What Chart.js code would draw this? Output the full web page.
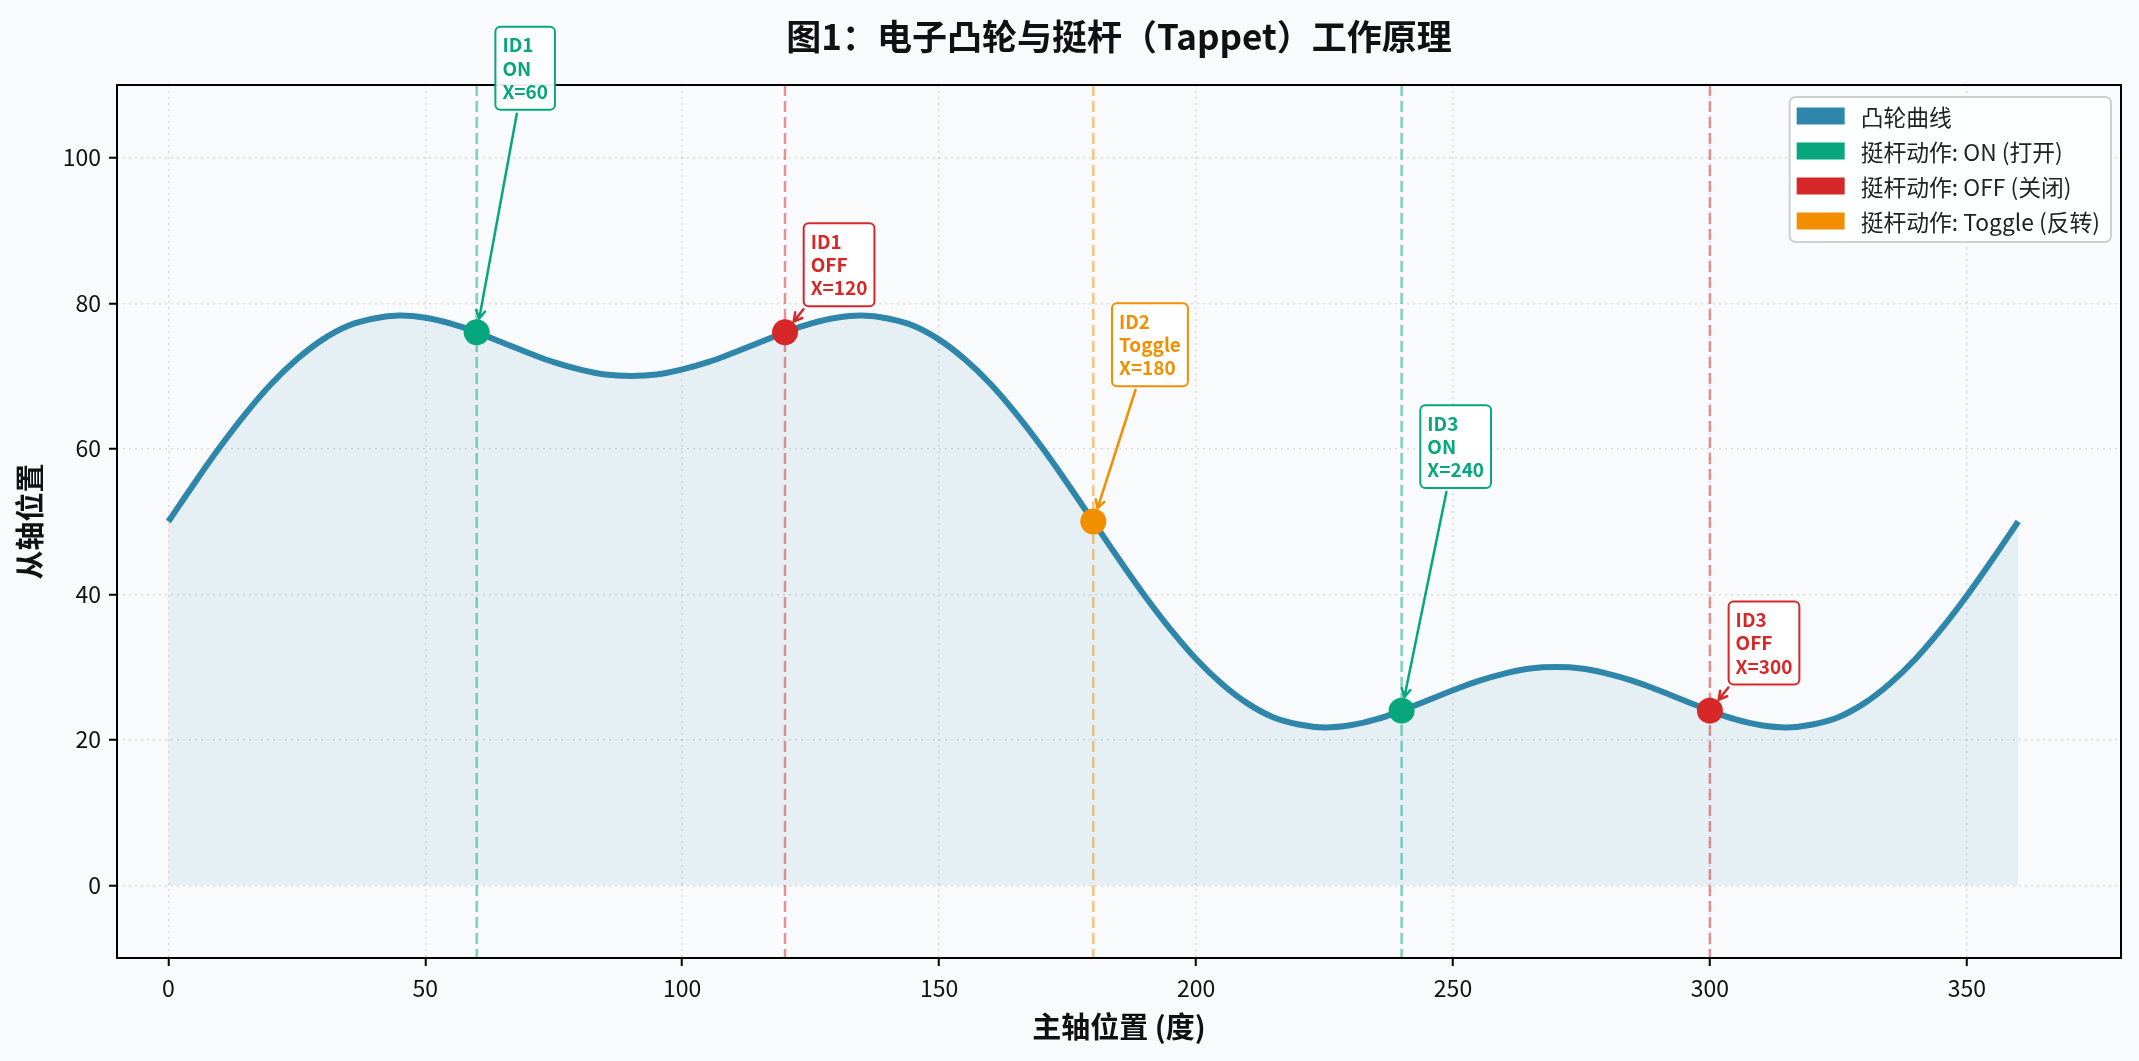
<!DOCTYPE html>
<html>
<head>
<meta charset="utf-8">
<script src="https://cdn.jsdelivr.net/npm/chart.js@4.4.1/dist/chart.umd.min.js"></script>
<style>
  html, body { margin: 0; padding: 0; background: #f9fafc; }
  #wrap { width: 2139px; height: 1061px; position: relative; }
</style>
</head>
<body>
<div id="wrap"><canvas id="camChart"></canvas></div>
<script>
// master axis angle (deg) and follower position
var angles = [0, 5, 10, 15, 20, 25, 30, 35, 40, 45, 50, 55, 60, 65, 70, 75, 80, 85, 90,
  95, 100, 105, 110, 115, 120, 125, 130, 135, 140, 145, 150, 155, 160, 165, 170, 175, 180,
  185, 190, 195, 200, 205, 210, 215, 220, 225, 230, 235, 240, 245, 250, 255, 260, 265, 270,
  275, 280, 285, 290, 295, 300, 305, 310, 315, 320, 325, 330, 335, 340, 345, 350, 355, 360];
var camValues = [50.0, 55.2, 60.2, 64.8, 68.9, 72.3, 75.0, 76.9, 77.9, 78.3, 78.0, 77.2, 76.0, 74.6, 73.2, 71.9, 70.9, 70.2, 70.0,
  70.2, 70.9, 71.9, 73.2, 74.6, 76.0, 77.2, 78.0, 78.3, 77.9, 76.9, 75.0, 72.3, 68.9, 64.8, 60.2, 55.2, 50.0,
  44.8, 39.8, 35.2, 31.1, 27.7, 25.0, 23.1, 22.1, 21.7, 22.0, 22.8, 24.0, 25.4, 26.8, 28.1, 29.1, 29.8, 30.0,
  29.8, 29.1, 28.1, 26.8, 25.4, 24.0, 22.8, 22.0, 21.7, 22.1, 23.1, 25.0, 27.7, 31.1, 35.2, 39.8, 44.8, 50.0];

// tappet switching events
var eventX = [60, 120, 180, 240, 300];
var eventY = [76, 76, 50, 24, 24];
var eventIds = ['ID1', 'ID1', 'ID2', 'ID3', 'ID3'];
var eventActions = ['ON', 'OFF', 'Toggle', 'ON', 'OFF'];

var xTicks = [0, 50, 100, 150, 200, 250, 300, 350];
var yTicks = [0, 20, 40, 60, 80, 100];

var legendLabels = ['凸轮曲线', '挺杆动作: ON (打开)', '挺杆动作: OFF (关闭)', '挺杆动作: Toggle (反转)'];

var camColor = '#2E86AB';
var actionColors = { ON: '#06A77D', OFF: '#D62828', Toggle: '#F18F01' };
// label box bottom above the point (data units)
var labelLift = { ON: 30.6, OFF: 3.6, Toggle: 18.6 };
var FONT = '"Noto Sans CJK SC", "Noto Sans", sans-serif';

function alpha(hex, a) {
  var n = parseInt(hex.slice(1), 16);
  return 'rgba(' + (n >> 16) + ',' + ((n >> 8) & 255) + ',' + (n & 255) + ',' + a + ')';
}

var curve = angles.map(function (a, i) { return { x: a, y: camValues[i] }; });

function pointsFor(action) {
  var pts = [];
  for (var i = 0; i < eventX.length; i++) {
    if (eventActions[i] === action) pts.push({ x: eventX[i], y: eventY[i] });
  }
  return pts;
}

var datasets = [{
  label: legendLabels[0],
  data: curve,
  borderColor: camColor,
  borderWidth: 6,
  backgroundColor: alpha(camColor, 0.09),
  fill: 'origin',
  tension: 0.4,
  pointRadius: 0,
  order: 1
}];
['ON', 'OFF', 'Toggle'].forEach(function (act) {
  datasets.push({
    label: act,
    data: pointsFor(act),
    showLine: false,
    pointRadius: 13,
    pointBorderWidth: 0,
    pointBackgroundColor: actionColors[act],
    borderColor: actionColors[act],
    order: 0
  });
});

var decorations = {
  id: 'decorations',
  beforeDatasetsDraw: function (chart) {
    var ctx = chart.ctx, area = chart.chartArea, xs = chart.scales.x;
    ctx.save();
    ctx.lineWidth = 2.5;
    ctx.setLineDash([11, 5]);
    for (var i = 0; i < eventX.length; i++) {
      var px = xs.getPixelForValue(eventX[i]);
      ctx.strokeStyle = alpha(actionColors[eventActions[i]], 0.5);
      ctx.beginPath();
      ctx.moveTo(px, area.top);
      ctx.lineTo(px, area.bottom);
      ctx.stroke();
    }
    ctx.restore();
  },
  afterDraw: function (chart) {
    var ctx = chart.ctx, area = chart.chartArea;
    var xs = chart.scales.x, ys = chart.scales.y;
    ctx.save();

    // frame
    ctx.strokeStyle = '#000';
    ctx.lineWidth = 2;
    ctx.setLineDash([]);
    ctx.strokeRect(area.left, area.top, area.right - area.left, area.bottom - area.top);

    // title
    ctx.fillStyle = '#111';
    ctx.font = 'bold 35px ' + FONT;
    ctx.textAlign = 'center';
    ctx.textBaseline = 'middle';
    ctx.fillText('图1：电子凸轮与挺杆（Tappet）工作原理', (area.left + area.right) / 2, 37);

    // legend
    ctx.font = '22.8px ' + FONT;
    var maxW = 0;
    legendLabels.forEach(function (t) { maxW = Math.max(maxW, ctx.measureText(t).width); });
    var lw = 71 + maxW + 11, lh = 145;
    var lx = area.right - 10 - lw, ly = area.top + 12;
    ctx.beginPath();
    ctx.roundRect(lx, ly, lw, lh, 6);
    ctx.fillStyle = 'rgba(255,255,255,0.85)';
    ctx.fill();
    ctx.strokeStyle = '#cfcfcf';
    ctx.lineWidth = 2;
    ctx.stroke();
    var swatches = [camColor, actionColors.ON, actionColors.OFF, actionColors.Toggle];
    ctx.textAlign = 'left';
    ctx.textBaseline = 'middle';
    for (var k = 0; k < legendLabels.length; k++) {
      var ry = ly + 19 + k * 35;
      ctx.fillStyle = swatches[k];
      ctx.fillRect(lx + 7, ry - 8.5, 48, 17);
      ctx.fillStyle = '#222';
      ctx.fillText(legendLabels[k], lx + 71, ry + 1);
    }

    // annotation boxes with arrows
    ctx.font = 'bold 19px ' + FONT;
    for (var i = 0; i < eventX.length; i++) {
      var act = eventActions[i], col = actionColors[act];
      var px = xs.getPixelForValue(eventX[i]), py = ys.getPixelForValue(eventY[i]);
      var lines = [eventIds[i], act, 'X=' + eventX[i]];
      var tw = 0;
      lines.forEach(function (t) { tw = Math.max(tw, ctx.measureText(t).width); });
      var bw = tw + 14, bh = 3 * 23.3 + 13;
      var bx = xs.getPixelForValue(eventX[i] + 5) - 7;
      var bb = ys.getPixelForValue(eventY[i] + labelLift[act]);
      var by = bb - bh;

      // arrow from box centre towards point, clipped at the box edge
      var cx = bx + bw / 2, cy = by + bh / 2;
      var dx = px - cx, dy = py - cy, len = Math.hypot(dx, dy);
      var ux = dx / len, uy = dy / len;
      var t0 = Math.min((bw / 2) / Math.abs(dx || 1e-9), (bh / 2) / Math.abs(dy || 1e-9));
      var sx = cx + dx * t0 + ux * 4, sy = cy + dy * t0 + uy * 4;
      var ex = px - ux * 14, ey = py - uy * 14;
      ctx.strokeStyle = col;
      ctx.lineWidth = 2.5;
      ctx.lineCap = 'round';
      ctx.beginPath();
      ctx.moveTo(sx, sy);
      ctx.lineTo(ex, ey);
      ctx.moveTo(ex - ux * 8 - uy * 4.5, ey - uy * 8 + ux * 4.5);
      ctx.lineTo(ex, ey);
      ctx.lineTo(ex - ux * 8 + uy * 4.5, ey - uy * 8 - ux * 4.5);
      ctx.stroke();

      ctx.beginPath();
      ctx.roundRect(bx, by, bw, bh, 5);
      ctx.fillStyle = 'rgba(255,255,255,0.92)';
      ctx.fill();
      ctx.lineWidth = 2;
      ctx.stroke();
      ctx.fillStyle = col;
      ctx.textAlign = 'left';
      ctx.textBaseline = 'middle';
      for (var j = 0; j < 3; j++) {
        ctx.fillText(lines[j], bx + 7, by + 6.5 + 23.3 * (j + 0.5));
      }
    }
    ctx.restore();
  }
};

var gridCommon = {
  color: 'rgba(0,0,0,0.13)',
  lineWidth: 1.5,
  drawTicks: true,
  tickLength: 8,
  tickColor: '#000',
  tickWidth: 2,
  tickBorderDash: []
};

new Chart(document.getElementById('camChart'), {
  type: 'line',
  data: { datasets: datasets },
  options: {
    responsive: true,
    maintainAspectRatio: false,
    animation: false,
    devicePixelRatio: 1,
    layout: { padding: { top: 85, right: 18, left: 0, bottom: 0 } },
    plugins: {
      legend: { display: false },
      tooltip: { enabled: false }
    },
    scales: {
      x: {
        type: 'linear',
        min: -10,
        max: 380,
        afterBuildTicks: function (s) { s.ticks = xTicks.map(function (v) { return { value: v }; }); },
        afterFit: function (s) { s.height = 103; },
        grid: gridCommon,
        border: { display: false, dash: [2, 4] },
        ticks: { color: '#111', padding: 8, maxRotation: 0, font: { family: FONT, size: 23 } },
        title: {
          display: true,
          text: '主轴位置 (度)',
          color: '#111',
          font: { family: FONT, size: 29, weight: 'bold' },
          padding: { top: 0, bottom: 16.6 }
        }
      },
      y: {
        min: -10,
        max: 110,
        afterBuildTicks: function (s) { s.ticks = yTicks.map(function (v) { return { value: v }; }); },
        afterFit: function (s) { s.width = 117; },
        grid: gridCommon,
        border: { display: false, dash: [2, 4] },
        ticks: { color: '#111', padding: 8, font: { family: FONT, size: 23 } },
        title: {
          display: true,
          text: '从轴位置',
          color: '#111',
          font: { family: FONT, size: 29, weight: 'bold' },
          padding: { top: 12.6, bottom: 0 }
        }
      }
    }
  },
  plugins: [decorations]
});
</script>
</body>
</html>
